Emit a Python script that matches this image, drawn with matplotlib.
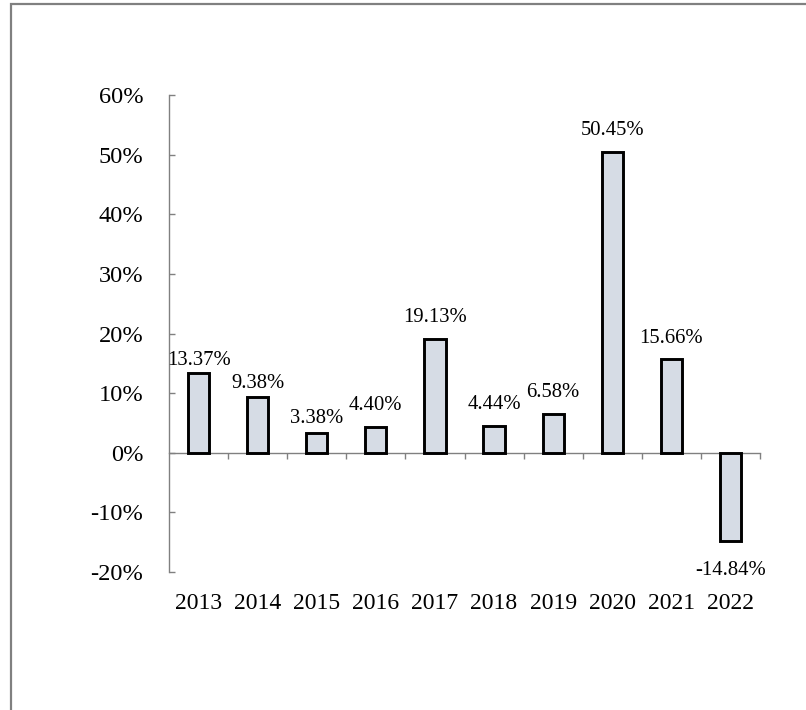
import matplotlib
matplotlib.use("Agg")
import matplotlib.pyplot as plt
from matplotlib.ticker import FuncFormatter, MultipleLocator
from matplotlib.patches import Rectangle

years = ["2013", "2014", "2015", "2016", "2017", "2018", "2019", "2020", "2021", "2022"]
growth = [13.37, 9.38, 3.38, 4.40, 19.13, 4.44, 6.58, 50.45, 15.66, -14.84]
labels = ["13.37%", "9.38%", "3.38%", "4.40%", "19.13%", "4.44%", "6.58%", "50.45%", "15.66%", "-14.84%"]
# vertical gap (points) between bar end and its label
label_gap = [6.1, 6.1, 6.6, 12.0, 12.0, 12.2, 12.2, 12.0, 12.0, 24.0]

plt.rcParams['font.family'] = ['Liberation Serif', 'DejaVu Serif']

fig = plt.figure(figsize=(8.06, 7.10), dpi=100)
fig.patches.append(Rectangle((11 / 806, -0.1), 1.2, 1 - 4 / 710 + 0.1,
                             transform=fig.transFigure, fill=False,
                             edgecolor='#808080', linewidth=1.6))

ax = fig.add_axes([169 / 806, 1 - 572 / 710, (760 - 169) / 806, (572 - 95) / 710])
x = list(range(len(years)))
ax.bar(x, growth, width=0.36, color='#D6DCE5', edgecolor='black', linewidth=2.1, zorder=3)

ax.set_xlim(-0.5, len(years) - 0.5)
ax.set_ylim(-20, 60)
ax.yaxis.set_major_locator(MultipleLocator(10))
ax.yaxis.set_major_formatter(FuncFormatter(lambda v, p: f"{int(round(v))}%".replace('\u2212', '-')))

for s in ['top', 'right', 'bottom']:
    ax.spines[s].set_visible(False)
ax.spines['left'].set_color('#808080')
ax.spines['left'].set_linewidth(1.0)

ax.tick_params(axis='y', direction='in', length=4.5, width=1.0, color='#808080',
               labelsize=17.6, pad=18.5, labelcolor='black')
ax.set_xticks(x)
ax.set_xticklabels(years)
ax.tick_params(axis='x', length=0, labelsize=17, pad=15)

sec = ax.secondary_xaxis(0.25)
sec.set_xticks([i + 0.5 for i in x])
sec.set_xticklabels([])
sec.tick_params(direction='out', length=4.5, width=1.0, color='#808080')
sec.spines['bottom'].set_color('#808080')
sec.spines['bottom'].set_linewidth(1.0)
sec.spines['bottom'].set_zorder(4)

for xi, v, lab, g in zip(x, growth, labels, label_gap):
    off = g if v >= 0 else -g
    ax.annotate(lab, (xi, v), xytext=(0, off), textcoords='offset points',
                ha='center', va='baseline', fontsize=14.9, color='black')

fig.savefig('out.png', dpi=100)
